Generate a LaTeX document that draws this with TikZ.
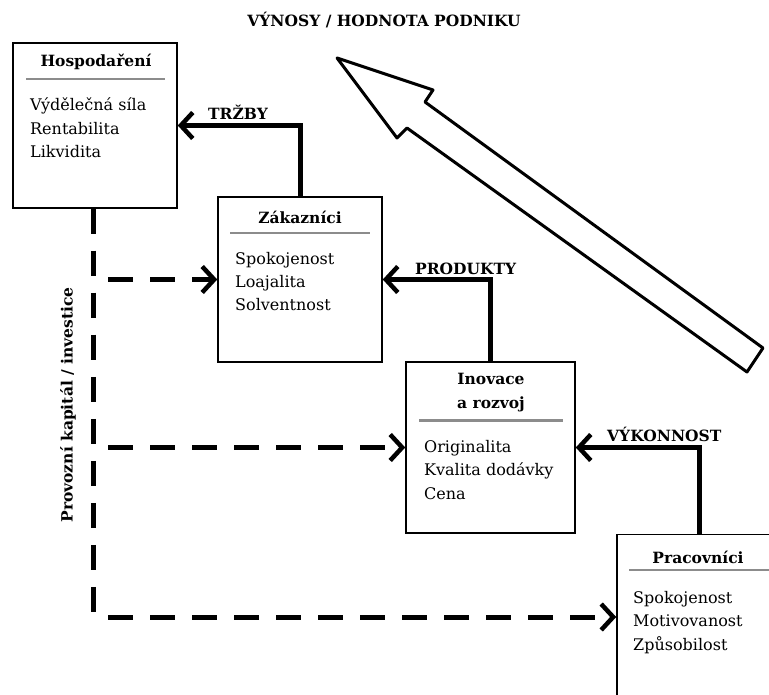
\documentclass[tikz,border=0pt]{standalone}
\usepackage{fontspec}
\setmainfont{DejaVu Serif}
\usetikzlibrary{arrows.meta}

\begin{document}
\begin{tikzpicture}[
  x=1pt, y=-1pt,
  box/.style={draw, line width=1.5pt, minimum width=164pt, minimum height=165pt, inner sep=0pt},
  head/.style={font=\fontsize{15.5}{24}\selectfont\bfseries, inner sep=0pt, align=center},
  items/.style={font=\fontsize{16}{23.5}\selectfont, inner sep=0pt, align=left, anchor=base west},
  rule/.style={draw=black!45, line width=2.5pt},
  flow/.style={line width=5pt, -{Straight Barb[length=12pt,width=26pt,line width=4.5pt]}},
  capflow/.style={line width=5pt, dash pattern=on 25pt off 17pt},
  lbl/.style={font=\fontsize{15.5}{18}\selectfont\bfseries, inner sep=0pt, anchor=south west}
]
  \useasboundingbox (0,0) rectangle (769,695);

  % boxes
  \node[box] (hosp) at (95,125.5) {};
  \node[box] (zak) at (300,279.5) {};
  \node[box, minimum width=169pt, minimum height=171pt] (inov) at (490.5,447.5) {};
  \node[box] (prac) at (699,617) {};

  % titles and contents
  \node[head] (hospT) at (96,62) {Hospodaření};
  \draw[rule] ([xshift=14pt,yshift=-37pt]hosp.north west) -- ([xshift=-13pt,yshift=-37pt]hosp.north east);
  \node[items] (hospI) at (30,158) {Výdělečná síla\\Rentabilita\\Likvidita};

  \node[head] (zakT) at (300,217) {Zákazníci};
  \draw[rule] ([xshift=13pt,yshift=-37pt]zak.north west) -- ([xshift=-13pt,yshift=-37pt]zak.north east);
  \node[items] (zakI) at (235,311) {Spokojenost\\Loajalita\\Solventnost};

  \node[head] (inovT) at (491,393) {Inovace\\a rozvoj};
  \draw[rule] ([xshift=14pt,yshift=-59pt]inov.north west) -- ([xshift=-13pt,yshift=-59pt]inov.north east);
  \node[items] (inovI) at (424,499) {Originalita\\Kvalita dodávky\\Cena};

  \node[head] (pracT) at (698,557) {Pracovníci};
  \draw[rule] ([xshift=13pt,yshift=-36pt]prac.north west) -- ([xshift=-13pt,yshift=-36pt]prac.north east);
  \node[items] (pracI) at (633,650) {Spokojenost\\Motivovanost\\Způsobilost};

  % flows between boxes
  \draw[flow] (zak.north) |- (hosp.east);
  \draw[flow] (inov.north) |- (zak.east);
  \draw[flow] (prac.north) |- (inov.east);
  \node[lbl] (trzby) at (208,120) {TRŽBY};
  \node[lbl] (produkty) at (415,275) {PRODUKTY};
  \node[lbl] (vykonnost) at (607,442) {VÝKONNOST};

  % capital / investment
  \draw[capflow] ([xshift=-2pt]hosp.south) -- ([xshift=-2pt]hosp.south |- prac.west);
  \draw[capflow, -{Straight Barb[length=12pt,width=26pt,line width=4.5pt]}] ([xshift=13pt]hosp.south |- zak.west) -- (zak.west);
  \draw[capflow, -{Straight Barb[length=12pt,width=26pt,line width=4.5pt]}] ([xshift=13pt]hosp.south |- inov.west) -- (inov.west);
  \draw[capflow, -{Straight Barb[length=12pt,width=26pt,line width=4.5pt]}] ([xshift=13pt]hosp.south |- prac.west) -- (prac.west);
  \node[lbl, anchor=center, rotate=90] (kapital) at (68,405) {Provozní kapitál / investice};

  % big arrow
  \coordinate (tip) at (337,58);
  \coordinate (b1) at (433,90);
  \coordinate (i1) at (425,102);
  \coordinate (t1) at (763,348);
  \coordinate (t2) at (747,372);
  \coordinate (i2) at (407,128);
  \coordinate (b2) at (397,138);
  \draw[line width=3pt, line join=round] (tip) -- (b1) -- (i1) -- (t1) -- (t2) -- (i2) -- (b2) -- cycle;
  \node[lbl, anchor=center] (vynosy) at (384,20) {VÝNOSY / HODNOTA PODNIKU};
\end{tikzpicture}
\end{document}
